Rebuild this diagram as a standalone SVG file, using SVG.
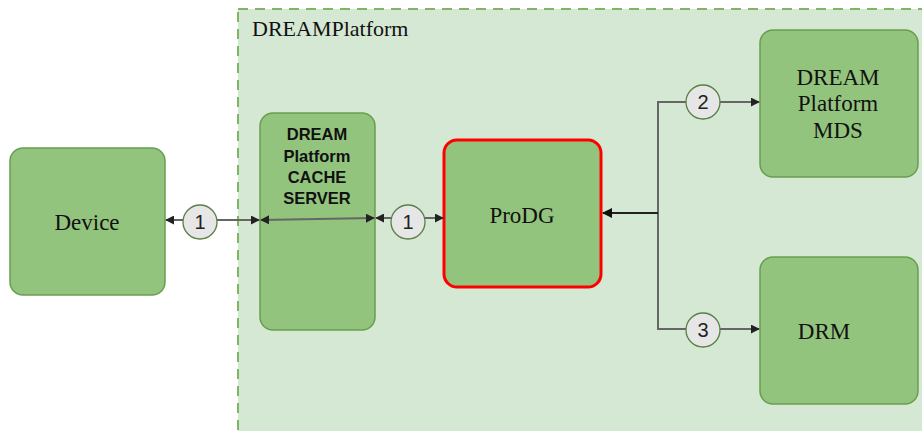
<svg xmlns="http://www.w3.org/2000/svg" width="922" height="431" viewBox="0 0 922 431">
<style>
.box{fill:#93c47d;stroke:#6a9d4f;stroke-width:1.5}
.serif{font-family:"Liberation Serif","Times New Roman",serif;font-size:23px;fill:#111}
.sans{font-family:"Liberation Sans",Arial,sans-serif;font-size:16.5px;font-weight:bold;fill:#111}
.num{font-family:"Liberation Sans",Arial,sans-serif;font-size:20px;fill:#222}
.circ{fill:#e6e6e6;stroke:#5a7f45;stroke-width:1.3}
.ln{fill:none;stroke:#666;stroke-width:2}
</style>
<defs>
<marker id="ah" viewBox="0 0 10 10" refX="9" refY="5" markerWidth="4.5" markerHeight="4.5" orient="auto-start-reverse" markerUnits="strokeWidth">
<path d="M0,0 L10,5 L0,10 z" fill="#222"/>
</marker>
<marker id="ahb" viewBox="0 0 10 10" refX="9" refY="5" markerWidth="5" markerHeight="5" orient="auto-start-reverse" markerUnits="strokeWidth">
<path d="M0,0 L10,5 L0,10 z" fill="#111"/>
</marker>
</defs>
<rect x="0" y="0" width="922" height="431" fill="#ffffff"/>
<g id="container">
<rect x="238" y="9" width="690" height="430" fill="#d5e8d4" stroke="#82b366" stroke-width="2" stroke-dasharray="10,7"/>
<text x="252" y="36" class="serif" style="font-size:22px">DREAMPlatform</text>
</g>
<g id="device">
<rect x="10" y="148" width="155" height="147" rx="13" class="box"/>
<text x="87" y="230" text-anchor="middle" class="serif">Device</text>
</g>
<g id="cache">
<rect x="260" y="113" width="115" height="217" rx="13" class="box"/>
<text text-anchor="middle" class="sans"><tspan x="317" y="140">DREAM</tspan><tspan x="317" y="162">Platform</tspan><tspan x="317" y="183">CACHE</tspan><tspan x="317" y="204">SERVER</tspan></text>
</g>
<g id="prodg">
<rect x="444" y="140" width="157" height="147" rx="13" fill="#93c47d" stroke="#ff0000" stroke-width="3"/>
<text x="522" y="223" text-anchor="middle" class="serif">ProDG</text>
</g>
<g id="mds">
<rect x="760" y="30" width="158" height="147" rx="13" class="box"/>
<text text-anchor="middle" class="serif"><tspan x="838" y="85">DREAM</tspan><tspan x="838" y="111">Platform</tspan><tspan x="838" y="138">MDS</tspan></text>
</g>
<g id="drm">
<rect x="760" y="257" width="158" height="147" rx="13" class="box"/>
<text x="824" y="339" text-anchor="middle" class="serif">DRM</text>
</g>
<g id="connectors">
<line x1="166" y1="220" x2="259" y2="220" class="ln" marker-start="url(#ah)" marker-end="url(#ah)"/>
<line x1="261" y1="220" x2="374" y2="218" class="ln" stroke="#555" marker-start="url(#ah)" marker-end="url(#ah)"/>
<line x1="376" y1="218" x2="443" y2="218" class="ln" marker-start="url(#ah)" marker-end="url(#ah)"/>
<polyline points="759,102 658,102 658,329 759,329" class="ln" marker-start="url(#ah)" marker-end="url(#ah)"/>
<line x1="658" y1="213" x2="603" y2="213" fill="none" stroke="#222" stroke-width="2" marker-end="url(#ahb)"/>
<circle cx="200" cy="222" r="17" class="circ"/>
<text x="200" y="229" text-anchor="middle" class="num">1</text>
<circle cx="408" cy="222" r="17" class="circ"/>
<text x="408" y="229" text-anchor="middle" class="num">1</text>
<circle cx="703" cy="102" r="17" class="circ"/>
<text x="703" y="109" text-anchor="middle" class="num">2</text>
<circle cx="703" cy="330" r="17" class="circ"/>
<text x="703" y="337" text-anchor="middle" class="num">3</text>
</g>
</svg>
